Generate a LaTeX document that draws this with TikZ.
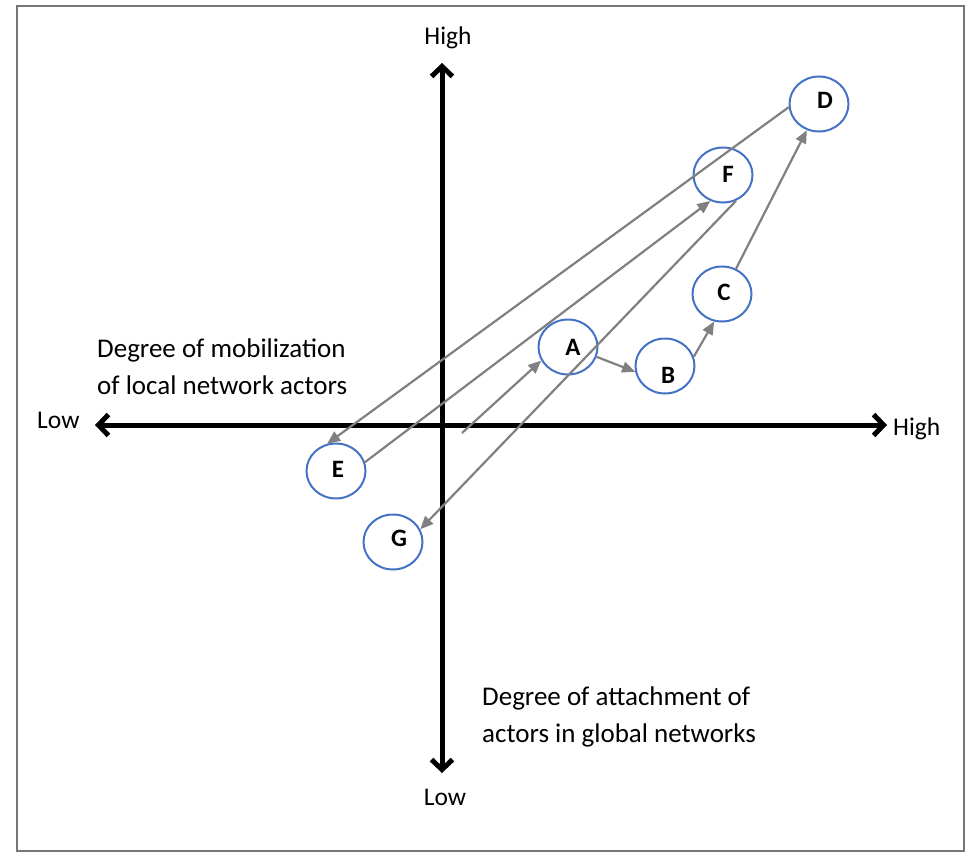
\documentclass[tikz,border=0pt]{standalone}
\usepackage{fontspec}
\setmainfont{Carlito}
\usetikzlibrary{arrows.meta,shapes.geometric}
\definecolor{ringblue}{RGB}{68,114,196}
\definecolor{linkgray}{RGB}{128,128,128}
\definecolor{framegray}{RGB}{118,118,118}
\tikzset{
  actor/.style={ellipse, draw=ringblue, line width=2pt, minimum width=59pt, minimum height=55pt, inner sep=0pt},
  letter/.style={font=\fontsize{25}{29}\selectfont\bfseries, inner sep=0pt},
  axis/.style={line width=5pt, {Straight Barb[length=10pt,width=21pt]}-{Straight Barb[length=10pt,width=21pt]}},
  link/.style={linkgray, line width=2.2pt, -{Triangle[length=13pt,width=11pt]}},
  axislabel/.style={font=\fontsize{25.5}{29}\selectfont, inner sep=0pt},
  desc/.style={font=\fontsize{27}{37}\selectfont, inner sep=0pt, align=left},
}
\begin{document}
\begin{tikzpicture}[x=1pt,y=-1pt]
\useasboundingbox (0,0) rectangle (968,853);
% outer frame
\draw[framegray, line width=2pt] (17,6) rectangle (964,851);

% axes
\coordinate (xl) at (95,425);
\coordinate (xr) at (887,425);
\coordinate (yt) at (442,63);
\coordinate (yb) at (442,773);
\draw[axis] (xl) -- (xr);
\draw[axis] (yb) -- (yt);

% axis labels
\node[axislabel, anchor=base] (hightop) at (448,45) {High};
\node[axislabel, anchor=base] (lowbot) at (445,805) {Low};
\node[axislabel, anchor=base west] (lowleft) at (37,428) {Low};
\node[axislabel, anchor=base west] (highright) at (893,435) {High};

% axis descriptions (base anchor sits on the last line)
\node[desc, anchor=base west] (mob) at (97,394) {Degree of mobilization\\of local network actors};
\node[desc, anchor=base west] (att) at (482,742) {Degree of attachment of\\actors in global networks};

% actors
\node[actor] (A) at (568,347) {};
\node[actor] (B) at (665,366) {};
\node[actor] (C) at (722,294) {};
\node[actor] (D) at (819,104) {};
\node[actor] (E) at (336,471) {};
\node[actor] (F) at (723,175) {};
\node[actor] (G) at (393,542) {};

\node[letter] (lA) at (573,347) {A};
\node[letter] (lB) at (668,375) {B};
\node[letter] (lC) at (724,292) {C};
\node[letter] (lD) at (825,100) {D};
\node[letter] (lE) at (338,469) {E};
\node[letter] (lF) at (728,174) {F};
\node[letter] (lG) at (399,538) {G};

% trajectory
\coordinate (start) at (462,433);
\draw[link] (start) -- (A.207);
\draw[link] (A.-19) -- (B.191);
\draw[link] (B.18) -- (C.254);
\draw[link] (C.61) -- (D.245);
\draw[link] (D.186) -- (E.108);
\draw[link] (E.17) -- (F.244);
\draw[link] (F.297) -- (G.25);
\end{tikzpicture}
\end{document}
